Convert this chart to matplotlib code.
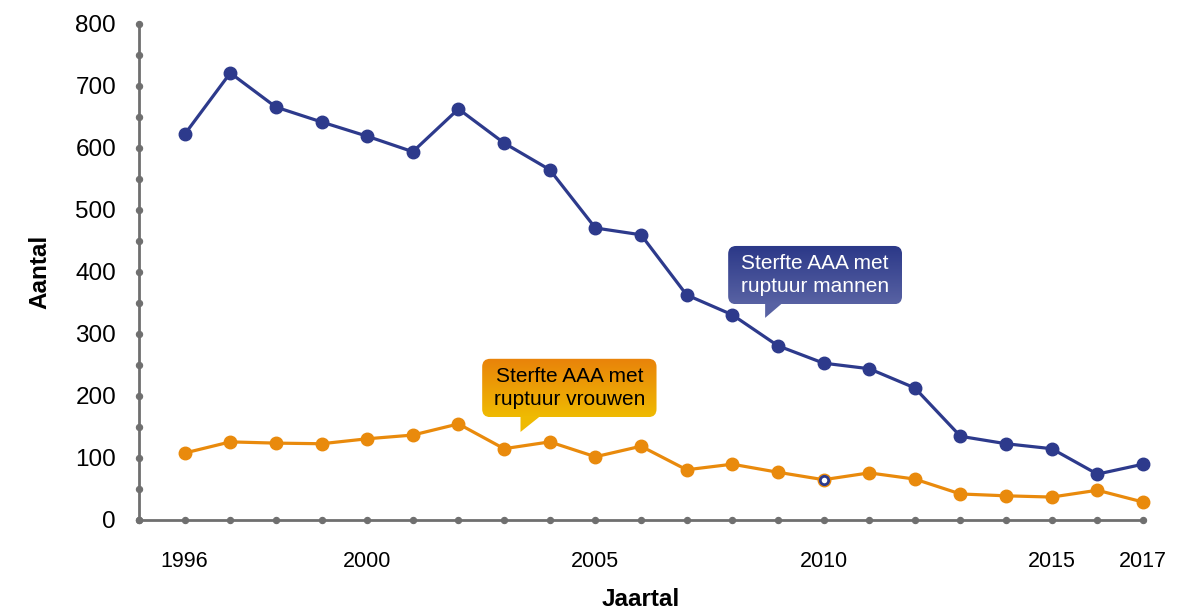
import matplotlib
matplotlib.use("Agg")
import matplotlib.pyplot as plt
import numpy as np
from matplotlib.patches import FancyBboxPatch, Polygon
from matplotlib.colors import LinearSegmentedColormap

plt.rcParams["font.family"] = ["Liberation Sans", "DejaVu Sans"]

years = list(range(1996, 2018))
mannen = [622, 721, 666, 642, 619, 594, 663, 608, 565, 471, 460,
          363, 331, 281, 253, 244, 213, 135, 123, 115, 74, 90]
vrouwen = [108, 126, 124, 123, 131, 137, 155, 115, 126, 102, 119,
           81, 90, 77, 65, 76, 66, 42, 39, 37, 48, 29]
x_labels = {1996: "1996", 2000: "2000", 2005: "2005", 2010: "2010",
            2015: "2015", 2017: "2017"}

BLUE = "#2d3a8c"
ORANGE = "#e98a0c"
GRAY = "#6f6f6f"

fig = plt.figure(figsize=(11.9, 6.11), dpi=100)
ax = fig.add_axes([139 / 1190, 1 - 520 / 611, (1143 - 139) / 1190, (520 - 24) / 611])

ax.plot(years, mannen, color=BLUE, lw=2.3, marker="o", ms=9, zorder=4, clip_on=False)
ax.plot(years, vrouwen, color=ORANGE, lw=2.3, marker="o", ms=9, zorder=3, clip_on=False)
# odd hollow marker on the 2010 point of the orange line
i2010 = years.index(2010)
ax.plot(years[i2010], vrouwen[i2010], marker="o", ms=6, mfc="white", mec=BLUE,
        mew=2, zorder=5)

ax.set_xlim(1995, 2017)
ax.set_ylim(0, 800)

for side in ["top", "right"]:
    ax.spines[side].set_visible(False)
for side in ["left", "bottom"]:
    ax.spines[side].set_color(GRAY)
    ax.spines[side].set_linewidth(2)

ax.set_xticks(list(range(1995, 2018)))
ax.set_xticklabels([x_labels.get(y, "") for y in range(1995, 2018)])
yt = list(range(0, 801, 50))
ax.set_yticks(yt)
ax.set_yticklabels([str(v) if v % 100 == 0 else "" for v in yt])
ax.tick_params(axis="x", length=4, pad=18, labelsize=15.5, colors=GRAY, labelcolor="black")
ax.tick_params(axis="y", length=4, pad=12.5, labelsize=17.5, colors=GRAY, labelcolor="black")
for t in ax.xaxis.get_major_ticks() + ax.yaxis.get_major_ticks():
    t.tick1line.set_marker("o")
    t.tick1line.set_markersize(4.5)
    t.tick1line.set_markerfacecolor(GRAY)
    t.tick1line.set_markeredgecolor(GRAY)
    t.tick1line.set_clip_on(False)

ax.set_xlabel("Jaartal", fontsize=17.5, fontweight="bold", labelpad=12)
ax.set_ylabel("Aantal", fontsize=17.5, fontweight="bold", labelpad=17)


def callout(x0, x1, y0, y1, tip, base, top_col, bot_col, text, tcol):
    rx = 8 / 45.67
    ry = 8 / 0.62
    box = FancyBboxPatch((x0, y0), x1 - x0, y1 - y0,
                         boxstyle=f"round,pad=0,rounding_size={rx}",
                         mutation_aspect=ry / rx, fc="none", ec="none")
    ax.add_patch(box)
    cmap = LinearSegmentedColormap.from_list("g", [bot_col, top_col])
    grad = np.linspace(0, 1, 100).reshape(-1, 1)
    im = ax.imshow(grad, cmap=cmap, aspect="auto", origin="lower",
                   extent=(x0, x1, y0, y1), zorder=6)
    im.set_clip_path(box)
    tri = Polygon([(base[0], y0 + 2), (base[1], y0 + 2), tip], closed=True,
                  fc=bot_col, ec="none", zorder=6)
    ax.add_patch(tri)
    ax.text((x0 + x1) / 2, (y0 + y1) / 2, text, ha="center", va="center",
            fontsize=15, color=tcol, zorder=7, linespacing=1.3)


callout(2007.91, 2011.72, 348, 442, (2008.72, 326), (2008.72, 2009.1),
        "#2b3888", "#5862a3", "Sterfte AAA met\nruptuur mannen", "white")
callout(2002.52, 2006.34, 166, 260, (2003.36, 142), (2003.36, 2003.8),
        "#e9830a", "#efba02", "Sterfte AAA met\nruptuur vrouwen", "black")

ax.set_xlim(1995, 2017)
ax.set_ylim(0, 800)

fig.savefig("out.png", dpi=100)
